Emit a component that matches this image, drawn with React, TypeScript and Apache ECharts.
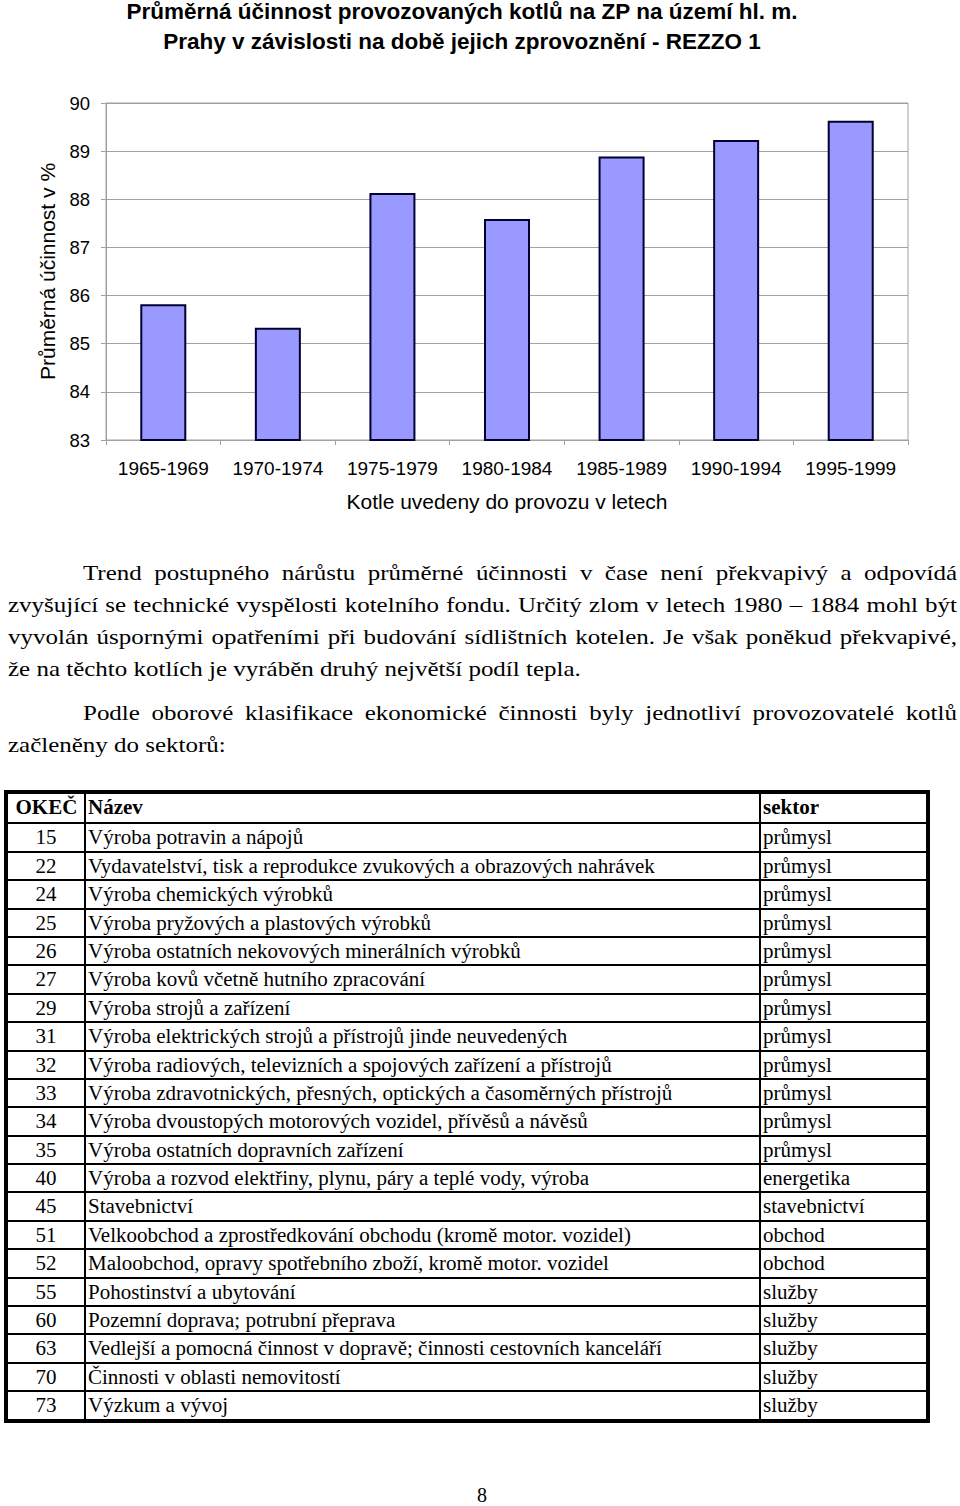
import React, { useEffect, useRef } from "react";
import * as echarts from "echarts";

const titleLines = [
  "Průměrná účinnost provozovaných kotlů na ZP na území hl. m.",
  "Prahy v závislosti na době jejich zprovoznění - REZZO 1",
];
const categories = ["1965-1969", "1970-1974", "1975-1979", "1980-1984", "1985-1989", "1990-1994", "1995-1999"];
const efficiency = [85.82, 85.33, 88.13, 87.59, 88.89, 89.23, 89.63];
const yMin = 83;
const yMax = 90;
const yStep = 1;
const yAxisName = "Průměrná účinnost v %";
const xAxisName = "Kotle uvedeny do provozu v letech";

const paragraph1 = [
  "Trend postupného nárůstu průměrné účinnosti v čase není překvapivý a odpovídá",
  "zvyšující se technické vyspělosti kotelního fondu. Určitý zlom v letech 1980 – 1884 mohl být",
  "vyvolán úspornými opatřeními při budování sídlištních kotelen. Je však poněkud překvapivé,",
  "že na těchto kotlích je vyráběn druhý největší podíl tepla.",
];
const paragraph2 = [
  "Podle oborové klasifikace ekonomické činnosti byly jednotliví provozovatelé kotlů",
  "začleněny do sektorů:",
];

const tableHeader = ["OKEČ", "Název", "sektor"];
const okecCodes = ["15", "22", "24", "25", "26", "27", "29", "31", "32", "33", "34", "35", "40", "45", "51", "52", "55", "60", "63", "70", "73"];
const activityNames = [
  "Výroba potravin a nápojů",
  "Vydavatelství, tisk a reprodukce zvukových a obrazových nahrávek",
  "Výroba chemických výrobků",
  "Výroba pryžových a plastových výrobků",
  "Výroba ostatních nekovových minerálních výrobků",
  "Výroba kovů včetně hutního zpracování",
  "Výroba strojů a zařízení",
  "Výroba elektrických strojů a přístrojů jinde neuvedených",
  "Výroba radiových, televizních a spojových zařízení a přístrojů",
  "Výroba zdravotnických, přesných, optických a časoměrných přístrojů",
  "Výroba dvoustopých motorových vozidel, přívěsů a návěsů",
  "Výroba ostatních dopravních zařízení",
  "Výroba a rozvod elektřiny, plynu, páry a teplé vody, výroba",
  "Stavebnictví",
  "Velkoobchod a zprostředkování obchodu (kromě motor. vozidel)",
  "Maloobchod, opravy spotřebního zboží, kromě motor. vozidel",
  "Pohostinství a ubytování",
  "Pozemní doprava; potrubní přeprava",
  "Vedlejší a pomocná činnost v dopravě; činnosti cestovních kanceláří",
  "Činnosti v oblasti nemovitostí",
  "Výzkum a vývoj",
];
const sectors = [
  "průmysl", "průmysl", "průmysl", "průmysl", "průmysl", "průmysl", "průmysl", "průmysl", "průmysl", "průmysl", "průmysl", "průmysl",
  "energetika", "stavebnictví", "obchod", "obchod", "služby", "služby", "služby", "služby", "služby",
];
const pageNumber = "8";

const SANS = "'Liberation Sans', Arial, sans-serif";
const SERIF = "'Liberation Serif', 'Times New Roman', serif";

function Chart() {
  const ref = useRef<HTMLDivElement>(null);
  useEffect(() => {
    if (!ref.current) return;
    const chart = echarts.init(ref.current, null, { renderer: "svg" });
    const gray = "#a0a0a0";
    chart.setOption({
      animation: false,
      backgroundColor: "#ffffff",
      textStyle: { fontFamily: SANS },
      graphic: titleLines.map((t, i) => ({
        type: "text",
        x: 462,
        y: 11 + i * 30,
        style: {
          text: t,
          fill: "#000",
          font: `bold 22.5px ${SANS}`,
          textAlign: "center",
          textVerticalAlign: "middle",
        },
      })),
      grid: {
        left: 106,
        right: 52,
        top: 103,
        bottom: 90,
        show: true,
        borderColor: gray,
        borderWidth: 1,
        outerBoundsMode: "none",
      },
      xAxis: {
        type: "category",
        data: categories,
        boundaryGap: true,
        name: xAxisName,
        nameLocation: "middle",
        nameGap: 51,
        nameTextStyle: { fontSize: 21, color: "#000", fontFamily: SANS },
        axisLine: { lineStyle: { color: gray, width: 1 } },
        axisTick: { show: true, length: 5, interval: 0, lineStyle: { color: gray } },
        axisLabel: { fontSize: 19, color: "#000", margin: 19, interval: 0, fontFamily: SANS },
      },
      yAxis: {
        type: "value",
        min: yMin,
        max: yMax,
        interval: yStep,
        name: yAxisName,
        nameLocation: "middle",
        nameGap: 48,
        nameTextStyle: { fontSize: 21, color: "#000", fontFamily: SANS },
        axisLine: { show: true, lineStyle: { color: gray, width: 1 } },
        axisTick: { show: true, length: 5, lineStyle: { color: gray } },
        axisLabel: { fontSize: 18.5, color: "#000", margin: 16, fontFamily: SANS },
        splitLine: { show: true, lineStyle: { color: gray, width: 1 } },
      },
      series: [
        {
          type: "bar",
          data: efficiency,
          barWidth: 46,
          itemStyle: { color: "#9999ff", borderColor: "#000033", borderWidth: 2 },
        },
      ],
    });
    return () => chart.dispose();
  }, []);
  return <div ref={ref} style={{ position: "absolute", left: 0, top: 0, width: 960, height: 530 }} />;
}

const P_SCALE = 1.135;
const lineStyle = (top: number, indent: boolean, last: boolean): React.CSSProperties => ({
  position: "absolute",
  left: 8,
  top,
  width: 949 / P_SCALE,
  height: 32,
  lineHeight: "32px",
  fontFamily: SERIF,
  fontSize: 22,
  color: "#000",
  whiteSpace: "normal",
  textAlign: last ? "left" : "justify",
  textAlignLast: last ? "left" : "justify",
  textIndent: indent ? 75 / P_SCALE : 0,
  transform: `scaleX(${P_SCALE})`,
  transformOrigin: "0 0",
});

function Paragraphs() {
  const p1Tops = [557, 589, 621, 653];
  const p2Tops = [697, 729];
  return (
    <>
      {paragraph1.map((l, i) => (
        <div key={"a" + i} style={lineStyle(p1Tops[i], i === 0, i === paragraph1.length - 1)}>
          {l}
        </div>
      ))}
      {paragraph2.map((l, i) => (
        <div key={"b" + i} style={lineStyle(p2Tops[i], i === 0, i === paragraph2.length - 1)}>
          {l}
        </div>
      ))}
    </>
  );
}

const T_SCALE = 1.05;
function Scaled({ text, center }: { text: string; center?: boolean }) {
  return (
    <span
      style={{
        display: "inline-block",
        transform: `scaleX(${T_SCALE})`,
        transformOrigin: center ? "50% 50%" : "0 50%",
      }}
    >
      {text}
    </span>
  );
}

function Table() {
  const rowH = 28.4;
  const col1 = 76;
  const col2 = 675;
  const cell = (w: number | string, extra: React.CSSProperties = {}): React.CSSProperties => ({
    width: w,
    flex: typeof w === "string" ? 1 : "none",
    boxSizing: "border-box",
    overflow: "hidden",
    whiteSpace: "nowrap",
    ...extra,
  });
  const rows = [
    { c: tableHeader[0], n: tableHeader[1], s: tableHeader[2], bold: true },
    ...okecCodes.map((c, i) => ({ c, n: activityNames[i], s: sectors[i], bold: false })),
  ];
  return (
    <div
      style={{
        position: "absolute",
        left: 4,
        top: 790,
        width: 926,
        boxSizing: "border-box",
        border: "4px solid #000",
        fontFamily: SERIF,
        fontSize: 20,
        color: "#000",
      }}
    >
      {rows.map((r, i) => (
        <div
          key={i}
          style={{
            display: "flex",
            height: rowH,
            lineHeight: rowH - 2 + "px",
            borderTop: i === 0 ? "none" : "2px solid #000",
            boxSizing: "border-box",
            fontWeight: r.bold ? "bold" : "normal",
          }}
        >
          <div style={cell(col1, { textAlign: "center" })}>
            <Scaled text={r.c} center />
          </div>
          <div style={cell(col2, { borderLeft: "2px solid #000", paddingLeft: 2 })}>
            <Scaled text={r.n} />
          </div>
          <div style={cell("1", { borderLeft: "2px solid #000", paddingLeft: 2 })}>
            <Scaled text={r.s} />
          </div>
        </div>
      ))}
    </div>
  );
}

export default function App() {
  return (
    <div style={{ position: "absolute", left: 0, top: 0, width: 960, height: 1506, overflow: "hidden", background: "#fff" }}>
      <Chart />
      <Paragraphs />
      <Table />
      <div
        style={{
          position: "absolute",
          left: 0,
          top: 1485,
          width: 964,
          height: 20,
          textAlign: "center",
          fontFamily: SERIF,
          fontSize: 20,
          lineHeight: "20px",
          color: "#000",
        }}
      >
        {pageNumber}
      </div>
    </div>
  );
}
